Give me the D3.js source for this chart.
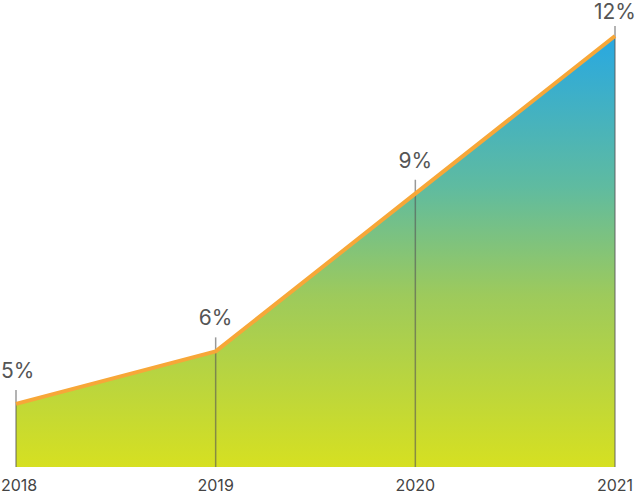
<!DOCTYPE html>
<html><head><meta charset="utf-8">
<script src="https://cdn.jsdelivr.net/npm/d3@7"></script>
<style>html,body{margin:0;padding:0;background:#fff;}svg{display:block;}</style>
</head><body>
<svg id="chart" width="640" height="500"></svg>
<script>
const years = ["2018", "2019", "2020", "2021"];
const values = [5, 6, 9, 12];
const valueLabels = ["5%", "6%", "9%", "12%"];

const W = 640, H = 500;
const svg = d3.select("#chart");
const x = d3.scalePoint().domain(years).range([16, 615]);
const y = d3.scaleLinear().domain([3.8, 12]).range([467, 36]);
const data = years.map((yr, i) => ({yr, v: values[i], lab: valueLabels[i]}));

const defs = svg.append("defs");
const grad = defs.append("linearGradient").attr("id", "g")
  .attr("gradientUnits", "userSpaceOnUse")
  .attr("x1", 0).attr("y1", y.range()[0]).attr("x2", 0).attr("y2", y.range()[1]);
grad.append("stop").attr("offset", "0%").attr("stop-color", "#d6e021");
grad.append("stop").attr("offset", "40%").attr("stop-color", "#9dca5c");
grad.append("stop").attr("offset", "65%").attr("stop-color", "#5fbba0");
grad.append("stop").attr("offset", "100%").attr("stop-color", "#28a8e2");

const area = d3.area().x(d => x(d.yr)).y0(y(3.8)).y1(d => y(d.v));
svg.append("path").datum(data).attr("d", area).attr("fill", "url(#g)");

const lineTop = d => Math.max(26, y(d.v) - 14);

svg.selectAll(".vl").data(data).join("line").attr("class", "vl")
  .attr("x1", d => x(d.yr)).attr("x2", d => x(d.yr))
  .attr("y1", lineTop).attr("y2", y(3.8))
  .attr("stroke", "#555").attr("stroke-opacity", 0.6).attr("stroke-width", 1.5);

const line = d3.line().x(d => x(d.yr)).y(d => y(d.v));
svg.append("path").datum(data).attr("d", line)
  .attr("fill", "none").attr("stroke", "#f7a738").attr("stroke-width", 4).attr("stroke-linejoin", "round");

function clampX(cx, w) { return Math.max(w / 2 + 1, Math.min(W - w / 2 - 1, cx)); }

svg.selectAll(".vlab").data(data).join("text").attr("class", "vlab")
  .attr("y", d => Math.max(19, lineTop(d) - 12))
  .attr("text-anchor", "middle")
  .attr("font-family", "Inter, 'Noto Sans', sans-serif")
  .attr("font-size", 21).attr("fill", "#555")
  .text(d => d.lab)
  .each(function(d) { const w = this.getComputedTextLength(); d3.select(this).attr("x", clampX(x(d.yr), w)); });

svg.selectAll(".xlab").data(data).join("text").attr("class", "xlab")
  .attr("y", 491)
  .attr("text-anchor", "middle")
  .attr("font-family", "Inter, 'Noto Sans', sans-serif")
  .attr("font-size", 16).attr("fill", "#444")
  .text(d => d.yr)
  .each(function(d) { const w = this.getComputedTextLength(); d3.select(this).attr("x", clampX(x(d.yr), w)); });
</script>
</body></html>
